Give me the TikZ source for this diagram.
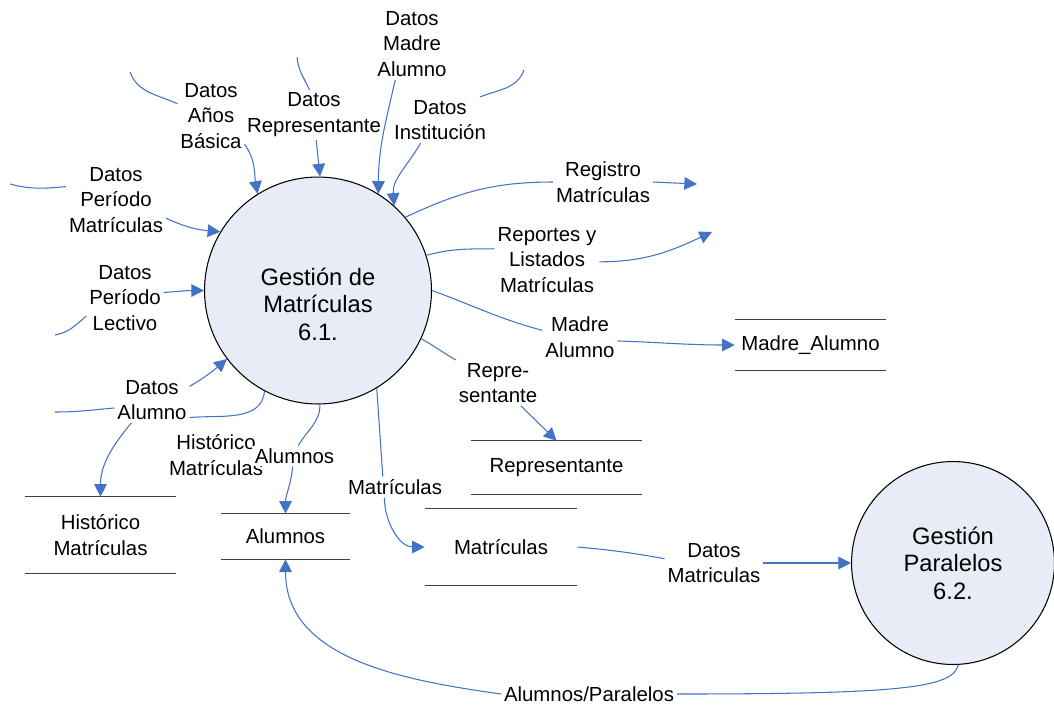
\documentclass[tikz,border=0pt]{standalone}
\usepackage{fontspec}
\setmainfont{Liberation Sans}
\usetikzlibrary{arrows.meta}
\definecolor{flowblue}{RGB}{68,114,196}
\definecolor{procfill}{RGB}{231,236,247}
\newcommand\lblfont{\fontsize{11.6}{14.7}\selectfont}
\newcommand\procfont{\fontsize{13.5}{15.6}\selectfont}
\tikzset{
  flowline/.style={draw=flowblue, line width=0.6pt},
  flow/.style={flowline, -{Triangle[length=7.2pt,width=7.2pt]}},
  proc/.style={draw, circle, fill=procfill, line width=0.6pt, inner sep=0pt, align=center, font=\procfont},
  store/.style={align=center, inner sep=0pt, font=\lblfont},
  storeline/.style={draw=black!75, line width=0.8pt},
  lbl/.style={align=center, inner sep=1.5pt, fill=white, font=\lblfont}
}
\begin{document}
\begin{tikzpicture}[x=0.02cm, y=-0.02cm]
			\useasboundingbox (0,0) rectangle (1054,707);
			% processes
			\node[proc, minimum size=4.54cm] (M) at (318,290.5) {};
			\node[align=center, font=\procfont] (Mtext) at (318,304) {Gestión de\\Matrículas\\6.1.};
			\node[proc, minimum size=4.06cm] (P) at (953,563) {Gestión\\Paralelos\\6.2.};
			% data stores
			\node[store, minimum width=3.02cm, minimum height=1cm] (ma) at (810.5,345) {Madre\_Alumno};
			\node[store, minimum width=3.42cm, minimum height=1.06cm] (rep) at (556.5,467.5) {Representante};
			\node[store, minimum width=3.02cm, minimum height=1.52cm] (hist) at (100.5,535) {Histórico\\Matrículas};
			\node[store, minimum width=2.58cm, minimum height=0.9cm] (alum) at (285.5,536.5) {Alumnos};
			\node[store, minimum width=3.04cm, minimum height=1.52cm] (mat) at (501,547) {Matrículas};
			\draw[storeline] (ma.north west) -- (ma.north east) (ma.south west) -- (ma.south east);
			\draw[storeline] (rep.north west) -- (rep.north east) (rep.south west) -- (rep.south east);
			\draw[storeline] (hist.north west) -- (hist.north east) (hist.south west) -- (hist.south east);
			\draw[storeline] (alum.north west) -- (alum.north east) (alum.south west) -- (alum.south east);
			\draw[storeline] (mat.north west) -- (mat.north east) (mat.south west) -- (mat.south east);
			% flow labels
			\node[lbl] (lAB) at (211,116) {Datos\\Años\\Básica};
			\node[lbl] (lDR) at (314,115) {Datos\\Representante};
			\node[lbl] (lDM) at (412,44) {Datos\\Madre\\Alumno};
			\node[lbl] (lDI) at (440,120) {Datos\\Institución};
			\node[lbl] (lPM) at (116,200) {Datos\\Período\\Matrículas};
			\node[lbl] (lPL) at (125,298) {Datos\\Período\\Lectivo};
			\node[lbl] (lDA) at (152,400) {Datos\\Alumno};
			\node[lbl] (lHM) at (216,455) {Histórico\\Matrículas};
			\node[lbl] (lAl) at (294.5,456) {Alumnos};
			\node[lbl] (lMt) at (395,487) {Matrículas};
			\node[lbl] (lRe) at (498,383) {Repre-\\sentante};
			\node[lbl] (lMA) at (580,337) {Madre\\Alumno};
			\node[lbl] (lRL) at (547,260) {Reportes y\\Listados\\Matrículas};
			\node[lbl] (lRM) at (603,182) {Registro\\Matrículas};
			\node[lbl] (lDMt) at (714,563) {Datos\\Matriculas};
			\node[lbl] (lAP) at (589,694) {Alumnos/Paralelos};
			% free ends
			\coordinate (sAB) at (130,72);
			\coordinate (sDR) at (297,57);
			\coordinate (sDI) at (524,70);
			\coordinate (sPM) at (10,184);
			\coordinate (sPL) at (55,335);
			\coordinate (sDA) at (55,412);
			\coordinate (tRM) at (697,184);
			\coordinate (tRL) at (712,232);
			% incoming flows
			\draw[flowline] (sAB) to[out=-70,in=155] (lAB.160);
			\draw[flow] (lAB.-40) to[out=-55,in=100] (M.122);
			\draw[flowline] (sDR) to[out=-85,in=115] (lDR.100);
			\draw[flow] (lDR.-85) -- (M.89);
			\draw[flow] (lDM.-115) to[out=-103,in=90] (M.58);
			\draw[flowline] (sDI) to[out=-110,in=22] (lDI.30);
			\draw[flow] (lDI.-130) to[out=-120,in=95] (M.48);
			\draw[flowline] (sPM) to[out=-15,in=185] (lPM.165);
			\draw[flow] (lPM.-20) to[out=-25,in=175] (M.149);
			\draw[flowline] (sPL) to[out=10,in=220] (lPL.205);
			\draw[flow] (lPL.8) to[out=5,in=180] (M.180);
			\draw[flowline] (sDA) to[out=0,in=185] (lDA.192);
			\draw[flow] (lDA.20) to[out=30,in=220] (M.217);
			% outgoing flows
			\draw[flowline] (M.242) to[out=-95,in=5] (lDA.-25);
			\draw[flow] (lDA.-132) to[out=-130,in=90] (hist.north);
			\draw[flowline] (M.271) to[out=-90,in=60] (lAl.70);
			\draw[flow] (lAl.-100) to[out=-95,in=90] (alum.north);
			\draw[flowline] (M.301) -- (lMt.139);
			\draw[flow] (lMt.-135) to[out=-90,in=180] (mat.west);
			\draw[flowline] (M.335) to[out=-30,in=150] (lRe.north west);
			\draw[flow] (lRe.-45) -- (rep.north);
			\draw[flowline] (M.0) to[out=-20,in=165] (lMA.170);
			\draw[flow] (lMA.-6) to[out=-2,in=180] (ma.west);
			\draw[flowline] (M.18) to[out=15,in=180] (lRL.168);
			\draw[flow] (lRL.-2) to[out=0,in=205] (tRL);
			\draw[flowline] (M.40) to[out=25,in=180] (lRM.west);
			\draw[flow] (lRM.east) -- (tRM);
			\draw[flowline] (mat.east) to[out=-5,in=170] (lDMt.175);
			\draw[flow] (lDMt.east) -- (P.180);
			\draw[flowline] (P.273) .. controls (953,688) and (900,694) .. (lAP.east);
			\draw[flow] (lAP.west) to[out=172,in=-90] (alum.south);
		\end{tikzpicture}
\end{document}
